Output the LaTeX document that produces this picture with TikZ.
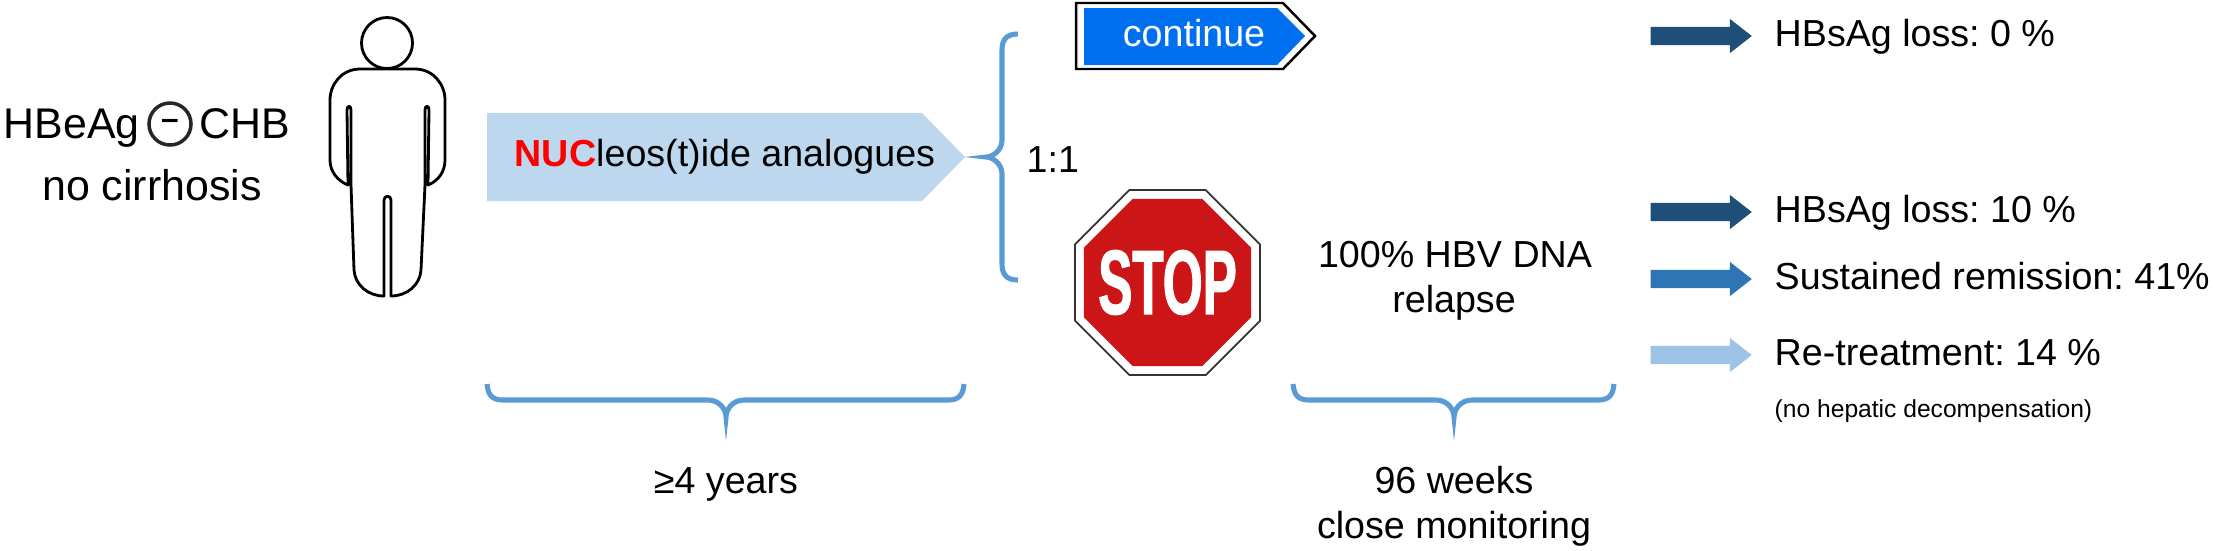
\documentclass[tikz,border=0pt]{standalone}
\usepackage{fontspec}
\setmainfont{Liberation Sans}
\newfontfamily\stopfont[BoldFeatures={FakeStretch=0.56, FakeBold=1.2}]{Liberation Sans}
\usepackage{tikz}
\usetikzlibrary{shapes.arrows, shapes.geometric}
\definecolor{nucblue}{HTML}{BDD7EE}
\definecolor{bracketblue}{HTML}{5B9BD5}
\definecolor{contblue}{HTML}{0070F0}
\definecolor{stopred}{HTML}{CC1517}
\definecolor{darkarrow}{HTML}{1F4E79}
\definecolor{midarrow}{HTML}{2E75B6}
\definecolor{lightarrow}{HTML}{9DC3E6}
\tikzset{
  txt/.style={inner sep=0pt, anchor=base, font=\fontsize{10.7pt}{12pt}\selectfont},
  txtleft/.style={txt, anchor=base west},
  bigtxt/.style={font=\fontsize{12.2pt}{14pt}\selectfont},
  grp/.style={draw=bracketblue, line width=1.45pt},
  resarrow/.style={shape=single arrow, inner sep=0pt, minimum height=1.01cm, minimum width=0.33cm,
    single arrow head extend=0.08cm, single arrow tip angle=76, text height=0.17cm, text width=0pt, anchor=west}
}
\begin{document}
\frenchspacing
\begin{tikzpicture}[x=0.01cm, y=-0.01cm]
\useasboundingbox (0, 0) rectangle (2213, 550);
% left label
\node[txtleft, bigtxt] (hbeag) at (3, 138) {HBeAg};
\node[shape=circle, draw=black!85, line width=1pt, minimum size=0.42cm, inner sep=0pt, font=\fontsize{9pt}{10pt}\bfseries\selectfont] (minus) at (170, 124) {–};
\node[txtleft, bigtxt] (chb) at (199, 138) {CHB};
\node[txt, bigtxt] (cirrhosis) at (152, 200) {no cirrhosis};
% patient
\draw[line width=0.8pt, line join=round] (387, 69) -- (360, 69) .. controls (342, 69) and (330, 84) .. (330, 100)
  -- (330, 160) .. controls (330, 172) and (338, 181) .. (348, 185) -- (347, 110) .. controls (347, 105) and (351, 105) .. (351, 110)
  -- (351, 185) -- (354, 270) .. controls (355, 285) and (368, 296) .. (384, 296) -- (384, 200) .. controls (384, 195) and (391, 195) .. (391, 200)
  -- (391, 296) .. controls (407, 296) and (420, 285) .. (421, 270) -- (425, 185) -- (425, 110) .. controls (425, 105) and (429, 105) .. (429, 110)
  -- (428, 185) .. controls (438, 181) and (445, 172) .. (445, 160) -- (445, 100) .. controls (445, 84) and (433, 69) .. (415, 69) -- cycle;
\node[shape=circle, draw, fill=white, line width=0.8pt, minimum size=0.51cm, inner sep=0pt] (head) at (387, 43) {};
% treatment
\fill[nucblue] (487, 113) -- (922, 113) -- (965, 157) -- (922, 201) -- (487, 201) -- cycle;
\node[txtleft] (nuc) at (514, 166) {\textcolor{red}{\textbf{NUC}}leos(t)ide analogues};
% brackets
\coordinate (yearsl) at (487, 384);
\coordinate (yearsr) at (964, 384);
\coordinate (weeksl) at (1293, 384);
\coordinate (weeksr) at (1614, 384);
\coordinate (randt) at (1018, 34);
\coordinate (randb) at (1018, 280);
\draw[grp] (yearsl) .. controls +(1, 11) and +(-11, 0) .. (503, 400) -- (708, 400) .. controls +(11, 0) and +(0, -8) .. (726, 417)
  .. controls +(0, -8) and +(-11, 0) .. (744, 400) -- (948, 400) .. controls +(11, 0) and +(-1, 11) .. (yearsr);
\draw[grp] (weeksl) .. controls +(1, 11) and +(-11, 0) .. (1309, 400) -- (1436, 400) .. controls +(11, 0) and +(0, -8) .. (1454, 417)
  .. controls +(0, -8) and +(-11, 0) .. (1472, 400) -- (1598, 400) .. controls +(11, 0) and +(-1, 11) .. (weeksr);
\draw[grp] (randt) .. controls +(-11, 0) and +(0, -11) .. (1002, 50) -- (1002, 140) .. controls +(0, 10) and +(7, 0) .. (986, 157)
  .. controls +(7, 0) and +(0, -10) .. (1002, 174) -- (1002, 264) .. controls +(0, 11) and +(-11, 0) .. (randb);
\node[txt] (years) at (726, 493) {≥4 years};
\node[txt] (weeks) at (1454, 493) {96 weeks};
\node[txt] (monitoring) at (1454, 538) {close monitoring};
\node[txtleft] (ratio) at (1026, 172) {1:1};
% continue
\draw[line width=0.7pt, fill=white] (1076, 3) -- (1283, 3) -- (1315, 36) -- (1283, 69) -- (1076, 69) -- cycle;
\fill[contblue] (1084, 8) -- (1277, 8) -- (1305, 36) -- (1277, 65) -- (1084, 65) -- cycle;
\node[txt, text=white] (continue) at (1194, 46) {continue};
% stop
\node[shape=regular polygon, regular polygon sides=8, draw=black!80, line width=0.5pt, line join=round, fill=white, minimum size=2cm, inner sep=0pt] (stopo) at (1167.5, 282.5) {};
\node[shape=regular polygon, regular polygon sides=8, fill=stopred, minimum size=1.81cm, inner sep=0pt] (stopi) at (1167.5, 282.5) {};
\node[text=white, inner sep=0pt, font=\fontsize{26pt}{28pt}\stopfont\bfseries\selectfont] (stoptxt) at (1167.5, 282.5) {STOP};
\node[txt] (dna) at (1455, 267) {100\% HBV DNA};
\node[txt] (relapse) at (1454, 312) {relapse};
% outcomes
\node[resarrow, fill=darkarrow] (loss0) at (1650, 36) {};
\node[resarrow, fill=darkarrow] (loss10) at (1650, 212) {};
\node[resarrow, fill=midarrow] (remission) at (1650, 279) {};
\node[resarrow, fill=lightarrow] (retreat) at (1650, 355) {};
\node[txtleft] (t0) at (1774, 46) {HBsAg loss: 0 \%};
\node[txtleft] (t10) at (1774, 222) {HBsAg loss: 10 \%};
\node[txtleft] (tsr) at (1774, 289) {Sustained remission: 41\%};
\node[txtleft] (trt) at (1774, 365) {Re-treatment: 14 \%};
\node[txtleft, font=\fontsize{7pt}{9pt}\selectfont] (tno) at (1774, 417) {(no hepatic decompensation)};
\end{tikzpicture}
\end{document}
